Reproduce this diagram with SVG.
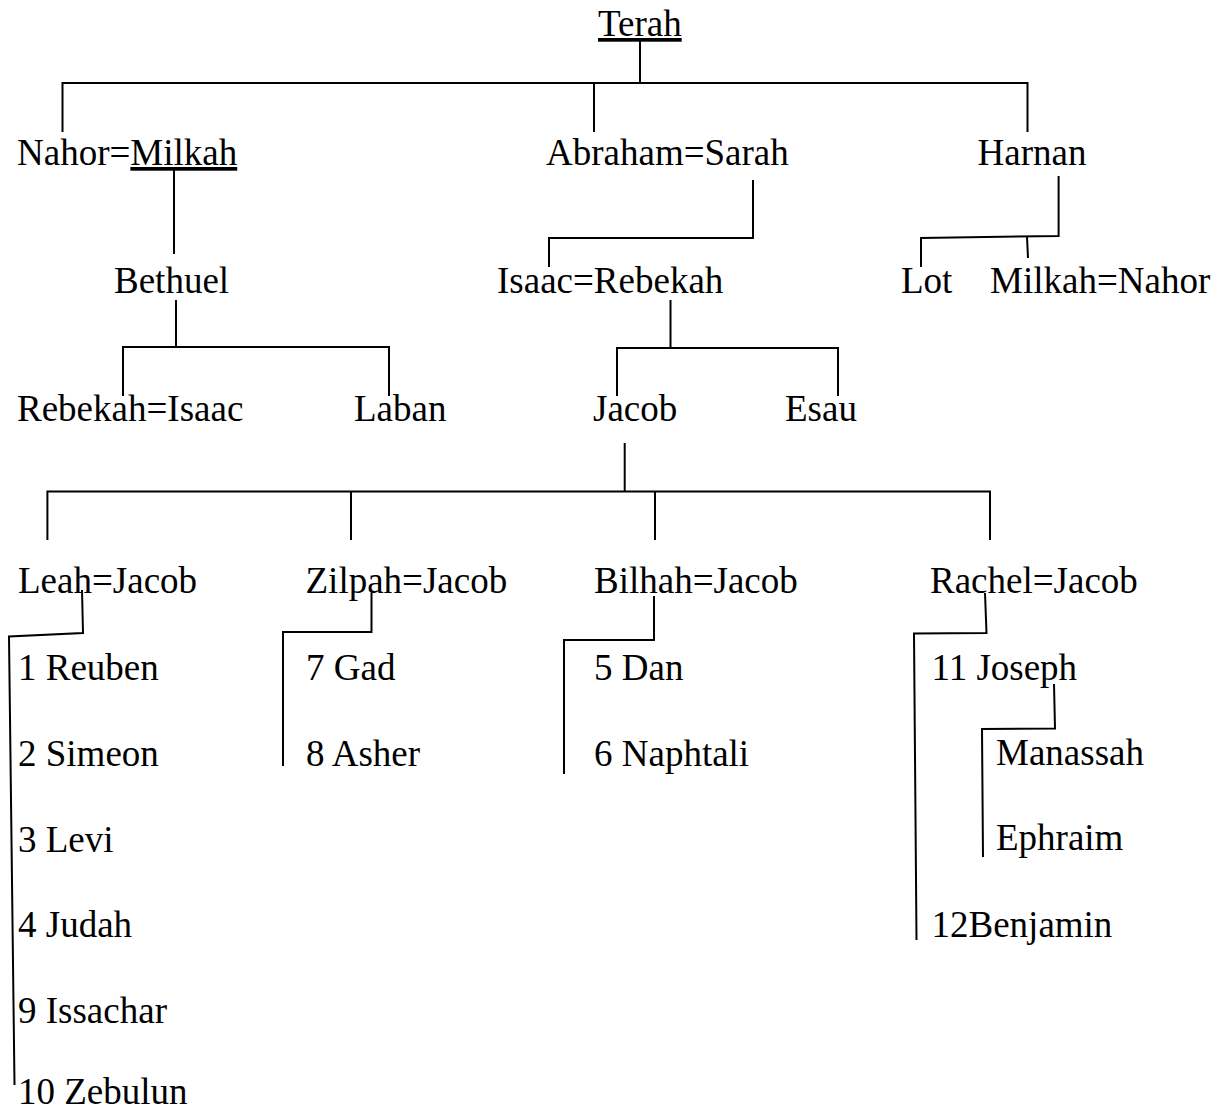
<svg xmlns="http://www.w3.org/2000/svg" width="1218" height="1113" viewBox="0 0 1218 1113">
<style>
text{font-family:"Liberation Serif","Times New Roman",serif;font-size:37px;fill:#000}
.u{text-decoration:underline}
.c{fill:none;stroke:#000;stroke-width:2}
</style>
<rect width="1218" height="1113" fill="#fff"/>
<g id="connectors">
<polyline class="c" points="640,40 640,83"/>
<polyline class="c" points="62.5,132 62.5,83 1027.5,83 1027.5,132"/>
<polyline class="c" points="594,83 594,132"/>
<polyline class="c" points="174,170 174,254"/>
<polyline class="c" points="753,180 753,238 549,238 549,267"/>
<polyline class="c" points="1058.6,176 1058.6,236 921,238 921,267"/>
<polyline class="c" points="1027,237 1028,258"/>
<polyline class="c" points="176,300 176,347"/>
<polyline class="c" points="123,396 123,347 389,347 389,396"/>
<polyline class="c" points="670.5,300 670.5,348"/>
<polyline class="c" points="617,396 617,348 838,348 838,396"/>
<polyline class="c" points="624.7,443 624.7,491.5"/>
<polyline class="c" points="47.4,540 47.4,491.5 990,491.5 990,540"/>
<polyline class="c" points="351,491.5 351,540"/>
<polyline class="c" points="655,491.5 655,540"/>
<polyline class="c" points="82,590 83,633 9,636.5 14.5,1085"/>
<polyline class="c" points="371.5,593 371.5,632 283,632 283,766"/>
<polyline class="c" points="654,596 654,640 564,640 564,774"/>
<polyline class="c" points="985,593 986.5,633 914,633.5 916.5,940"/>
<polyline class="c" points="1054,684 1055,728.5 982,729 983,857"/>
</g>
<g id="terah"><text x="598" y="36" class="u">Terah</text></g>
<g id="nahor-milkah"><text x="17" y="165">Nahor=<tspan class="u">Milkah</tspan></text></g>
<g id="abraham-sarah"><text x="546" y="165">Abraham=Sarah</text></g>
<g id="harnan"><text x="977.5" y="165">Harnan</text></g>
<g id="bethuel"><text x="114" y="293">Bethuel</text></g>
<g id="isaac-rebekah"><text x="497" y="293">Isaac=Rebekah</text></g>
<g id="lot"><text x="901" y="293">Lot</text></g>
<g id="milkah-nahor"><text x="990" y="293">Milkah=Nahor</text></g>
<g id="rebekah-isaac"><text x="17" y="421">Rebekah=Isaac</text></g>
<g id="laban"><text x="354" y="421">Laban</text></g>
<g id="jacob"><text x="593" y="421">Jacob</text></g>
<g id="esau"><text x="785" y="421">Esau</text></g>
<g id="leah-jacob"><text x="18" y="593">Leah=Jacob</text></g>
<g id="zilpah-jacob"><text x="305.5" y="593">Zilpah=Jacob</text></g>
<g id="bilhah-jacob"><text x="594" y="593">Bilhah=Jacob</text></g>
<g id="rachel-jacob"><text x="930" y="593">Rachel=Jacob</text></g>
<g id="reuben"><text x="18" y="680">1 Reuben</text></g>
<g id="simeon"><text x="18" y="766">2 Simeon</text></g>
<g id="levi"><text x="18" y="852">3 Levi</text></g>
<g id="judah"><text x="18" y="937">4 Judah</text></g>
<g id="issachar"><text x="18" y="1023">9 Issachar</text></g>
<g id="zebulun"><text x="18" y="1104">10 Zebulun</text></g>
<g id="gad"><text x="306" y="680">7 Gad</text></g>
<g id="asher"><text x="306" y="766">8 Asher</text></g>
<g id="dan"><text x="594" y="680">5 Dan</text></g>
<g id="naphtali"><text x="594" y="766">6 Naphtali</text></g>
<g id="joseph"><text x="931.5" y="680">11 Joseph</text></g>
<g id="manassah"><text x="996" y="765">Manassah</text></g>
<g id="ephraim"><text x="996" y="850">Ephraim</text></g>
<g id="benjamin"><text x="931.5" y="937">12Benjamin</text></g>
</svg>
